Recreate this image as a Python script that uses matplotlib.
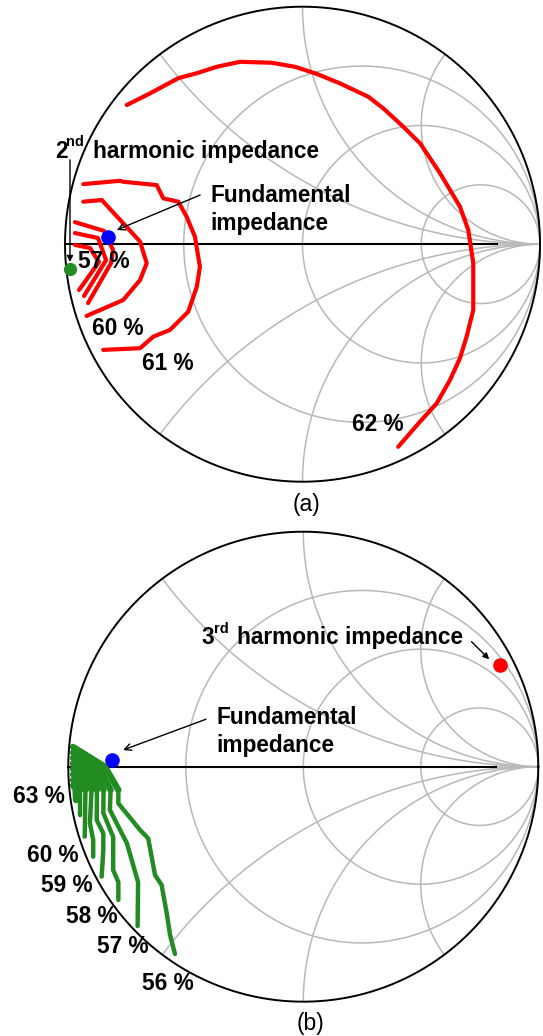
import numpy as np
import matplotlib
matplotlib.use('Agg')
import matplotlib.pyplot as plt

plt.rcParams['font.family'] = ['Liberation Sans', 'DejaVu Sans']

GRID = '#b8b8b8'
RED = '#ff0000'
GREEN = '#228b22'
BLUE = '#0000ff'

# chart grid: constant-resistance circles and constant-reactance arcs
R_CIRCLES = [1 / 3, 1, 3]
X_ARCS = [0.5, 1, 2, -0.5, -1, -2]

# ---- (a) 2nd harmonic sweep: PAE contours as reflection coefficient (re, im)
a_62 = [(-0.740, 0.586), (-0.642, 0.635), (-0.523, 0.699), (-0.445, 0.720),
        (-0.361, 0.747), (-0.263, 0.768), (-0.130, 0.764), (-0.032, 0.747),
        (0.060, 0.717), (0.158, 0.677), (0.277, 0.621), (0.340, 0.572),
        (0.424, 0.495), (0.495, 0.425), (0.579, 0.299), (0.663, 0.158),
        (0.698, 0.060), (0.719, -0.080), (0.719, -0.277), (0.691, -0.389),
        (0.663, -0.480), (0.621, -0.572), (0.565, -0.670), (0.495, -0.747),
        (0.403, -0.853)]
a_61 = [(-0.923, 0.253), (-0.768, 0.267), (-0.755, 0.263), (-0.614, 0.249),
        (-0.586, 0.193), (-0.523, 0.179), (-0.488, 0.116), (-0.453, 0.032),
        (-0.432, -0.095), (-0.445, -0.179), (-0.481, -0.284), (-0.558, -0.361),
        (-0.628, -0.389), (-0.684, -0.438), (-0.839, -0.445)]
a_60 = [(-0.923, 0.179), (-0.845, 0.186), (-0.684, 0.011), (-0.656, -0.080),
        (-0.684, -0.151), (-0.755, -0.235), (-0.909, -0.302)]
a_59 = [(-0.958, 0.093), (-0.836, 0.056), (-0.798, -0.024), (-0.806, -0.079),
        (-0.903, -0.248)]
a_58 = [(-0.958, 0.047), (-0.861, 0.026), (-0.827, -0.067), (-0.920, -0.218)]
a_57 = [(-0.958, -0.003), (-0.895, -0.016), (-0.857, -0.075), (-0.941, -0.193)]
a_fund = (-0.820, 0.032)
a_h2 = (-0.979, -0.104)

# ---- (b) 3rd harmonic sweep
b_56 = [(-0.980, 0.084), (-0.844, 0.000), (-0.787, -0.099), (-0.787, -0.156),
        (-0.695, -0.269), (-0.660, -0.305), (-0.631, -0.461), (-0.603, -0.503),
        (-0.581, -0.624), (-0.567, -0.716), (-0.546, -0.797)]
b_57 = [(-0.980, 0.060), (-0.865, -0.012), (-0.820, -0.099), (-0.823, -0.184),
        (-0.751, -0.325), (-0.703, -0.491), (-0.705, -0.678)]
b_58 = [(-0.980, 0.037), (-0.886, -0.023), (-0.850, -0.099), (-0.851, -0.197),
        (-0.809, -0.299), (-0.809, -0.440), (-0.787, -0.491), (-0.787, -0.567)]
b_59 = [(-0.980, 0.014), (-0.908, -0.033), (-0.878, -0.099), (-0.879, -0.227),
        (-0.851, -0.283), (-0.851, -0.354), (-0.858, -0.468)]
b_60 = [(-0.980, -0.010), (-0.927, -0.044), (-0.901, -0.099), (-0.908, -0.241),
        (-0.894, -0.312), (-0.894, -0.383)]
b_61 = [(-0.980, -0.033), (-0.946, -0.057), (-0.927, -0.099), (-0.930, -0.298)]
b_62 = [(-0.980, -0.057), (-0.961, -0.069), (-0.950, -0.099), (-0.950, -0.206)]
b_63 = [(-0.980, -0.080), (-0.969, -0.095), (-0.967, -0.142)]
b_fund = (-0.813, 0.029)
b_h3 = (0.837, 0.433)


def smith_grid(ax):
    t = np.linspace(0, 2 * np.pi, 600)
    for r in R_CIRCLES:
        c, rad = r / (r + 1), 1 / (r + 1)
        ax.plot(c + rad * np.cos(t), rad * np.sin(t), color=GRID, lw=1.1, zorder=1)
    rr = np.concatenate([[0], np.logspace(-3, 4, 800)])
    for x in X_ARCS:
        z = rr + 1j * x
        g = (z - 1) / (z + 1)
        ax.plot(g.real, g.imag, color=GRID, lw=1.1, zorder=1)
    ax.plot([-1, 1], [0, 0], color=GRID, lw=1.1, zorder=1)
    ax.plot(np.cos(t), np.sin(t), color='black', lw=1.4, zorder=3)
    ax.plot([-1, 0.82], [0, 0], color='black', lw=1.5, zorder=3)
    ax.axis('off')


def contour(ax, pts, color, lw=3.0):
    re, im = zip(*pts)
    ax.plot(re, im, color=color, lw=lw, solid_capstyle='round',
            solid_joinstyle='round', zorder=4)


fig = plt.figure(figsize=(5.43, 10.36), dpi=100)
ax1 = fig.add_axes([0, 0.5, 1, 0.5])
ax2 = fig.add_axes([0, 0, 1, 0.5])
ax1.set_xlim(-1.2737, 1.0126); ax1.set_ylim(-1.1528, 1.0282)
ax2.set_xlim(-1.2906, 1.0200); ax2.set_ylim(-1.1460, 1.0583)

FS = 16.3
bold = dict(fontsize=FS, fontweight='bold', color='black', zorder=6)
sup = dict(fontsize=10.5, fontweight='bold', color='black', zorder=6)

# ── (a) ──
smith_grid(ax1)
for c in (a_62, a_61, a_60, a_59, a_58, a_57):
    contour(ax1, c, RED)
ax1.plot(*a_fund, 'o', color=BLUE, ms=9.5, zorder=5)
ax1.plot(*a_h2, 'o', color=GREEN, ms=8.5, zorder=5)

ax1.text(-1.042, 0.363, '2', ha='left', va='baseline', **bold)
ax1.text(-0.997, 0.413, 'nd', ha='left', va='baseline', **sup)
ax1.text(-0.882, 0.363, 'harmonic impedance', ha='left', va='baseline', **bold)
ax1.annotate('', xy=(-0.979, -0.075), xytext=(-0.979, 0.355),
             arrowprops=dict(arrowstyle='-|>', color='black', lw=1.0,
                             mutation_scale=9, shrinkA=0, shrinkB=0), zorder=6)
ax1.text(-0.389, 0.179, 'Fundamental', ha='left', va='baseline', **bold)
ax1.text(-0.389, 0.060, 'impedance', ha='left', va='baseline', **bold)
ax1.annotate('', xy=(-0.782, 0.060), xytext=(-0.431, 0.207),
             arrowprops=dict(arrowstyle='->', color='black', lw=1.0,
                             mutation_scale=12, shrinkA=0, shrinkB=0), zorder=6)

ax1.text(-0.838, -0.100, '57 %', ha='center', va='baseline', **bold)
ax1.text(-0.779, -0.382, '60 %', ha='center', va='baseline', **bold)
ax1.text(-0.568, -0.530, '61 %', ha='center', va='baseline', **bold)
ax1.text(0.315, -0.785, '62 %', ha='center', va='baseline', **bold)
ax1.text(0.018, -1.098, '(a)', ha='center', va='center', fontsize=16.5)

# ── (b) ──
smith_grid(ax2)
for c in (b_56, b_57, b_58, b_59, b_60, b_61, b_62, b_63):
    contour(ax2, c, GREEN, lw=3.2)
    # the contours crowd together near the edge; draw that stretch heavier
    contour(ax2, c[:3], GREEN, lw=4.6)
ax2.plot(*b_fund, 'o', color=BLUE, ms=9.5, zorder=5)
ax2.plot(*b_h3, 'o', color=RED, ms=9.5, zorder=5)

ax2.text(-0.435, 0.522, '3', ha='left', va='baseline', **bold)
ax2.text(-0.381, 0.568, 'rd', ha='left', va='baseline', **sup)
ax2.text(-0.284, 0.522, 'harmonic impedance', ha='left', va='baseline', **bold)
ax2.annotate('', xy=(0.791, 0.457), xytext=(0.716, 0.532),
             arrowprops=dict(arrowstyle='-|>', color='black', lw=1.0,
                             mutation_scale=9, shrinkA=0, shrinkB=0), zorder=6)
ax2.text(-0.370, 0.182, 'Fundamental', ha='left', va='baseline', **bold)
ax2.text(-0.370, 0.064, 'impedance', ha='left', va='baseline', **bold)
ax2.annotate('', xy=(-0.767, 0.071), xytext=(-0.414, 0.202),
             arrowprops=dict(arrowstyle='->', color='black', lw=1.0,
                             mutation_scale=12, shrinkA=0, shrinkB=0), zorder=6)

ax2.text(-1.126, -0.153, '63 %', ha='center', va='baseline', **bold)
ax2.text(-1.064, -0.404, '60 %', ha='center', va='baseline', **bold)
ax2.text(-1.005, -0.532, '59 %', ha='center', va='baseline', **bold)
ax2.text(-0.900, -0.664, '58 %', ha='center', va='baseline', **bold)
ax2.text(-0.769, -0.794, '57 %', ha='center', va='baseline', **bold)
ax2.text(-0.578, -0.950, '56 %', ha='center', va='baseline', **bold)
ax2.text(0.029, -1.091, '(b)', ha='center', va='center', fontsize=16.5)

fig.savefig('out.png', dpi=100)
